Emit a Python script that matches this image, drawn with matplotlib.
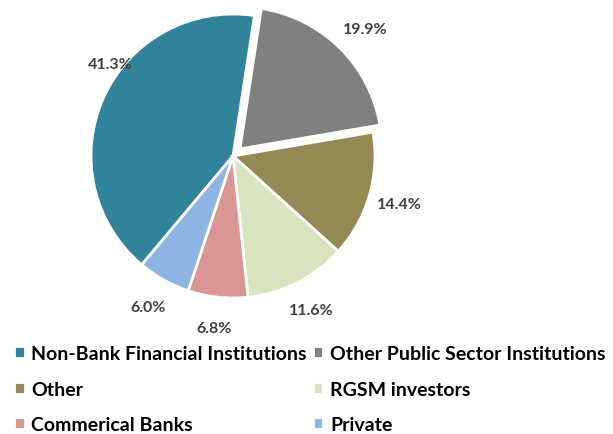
import numpy as np
import matplotlib.pyplot as plt

plt.rcParams['font.family'] = ['Lato', 'DejaVu Sans']

labels = ['Non-Bank Financial Institutions', 'Other Public Sector Institutions', 'Other',
          'RGSM investors', 'Commerical Banks', 'Private']
values = [41.3, 19.9, 14.4, 11.6, 6.8, 6.0]
colors = ['#31849B', '#808080', '#948A54', '#D7E4BD', '#D99694', '#8EB4E3']
explode = [0, 0.07, 0, 0, 0, 0]

fig = plt.figure(figsize=(6.13, 4.35), dpi=100)
lim = 1.3
size = 142 * lim * 2
ax = fig.add_axes([(233 - size / 2) / 613, (435 - 157 - size / 2) / 435, size / 613, size / 435])

wedges, texts, autotexts = ax.pie(values, colors=colors, explode=explode, startangle=230,
                                  counterclock=False, autopct='%.1f%%', pctdistance=1.22,
                                  wedgeprops=dict(edgecolor='white', linewidth=2),
                                  textprops=dict(color='#404040', fontsize=11.5, fontweight='bold'))
# first two labels placed like the original
a = np.deg2rad(143)
autotexts[0].set_position((1.08 * np.cos(a), 1.08 * np.sin(a)))
a = np.deg2rad(44)
autotexts[1].set_position((1.29 * np.cos(a), 1.29 * np.sin(a)))

ax.set_xlim(-lim, lim)
ax.set_ylim(-lim, lim)
ax.set_aspect('equal')
ax.axis('off')

order = [0, 2, 4, 1, 3, 5]
fig.legend([wedges[i] for i in order], [labels[i] for i in order], ncol=2,
           loc='upper left', bbox_to_anchor=(0.01, 0.222), frameon=False,
           prop=dict(size=14, weight='bold'), handlelength=0.55, handleheight=0.55,
           handletextpad=0.35, columnspacing=0.3, labelspacing=0.95, borderaxespad=0)

fig.savefig('out.png', dpi=100)
